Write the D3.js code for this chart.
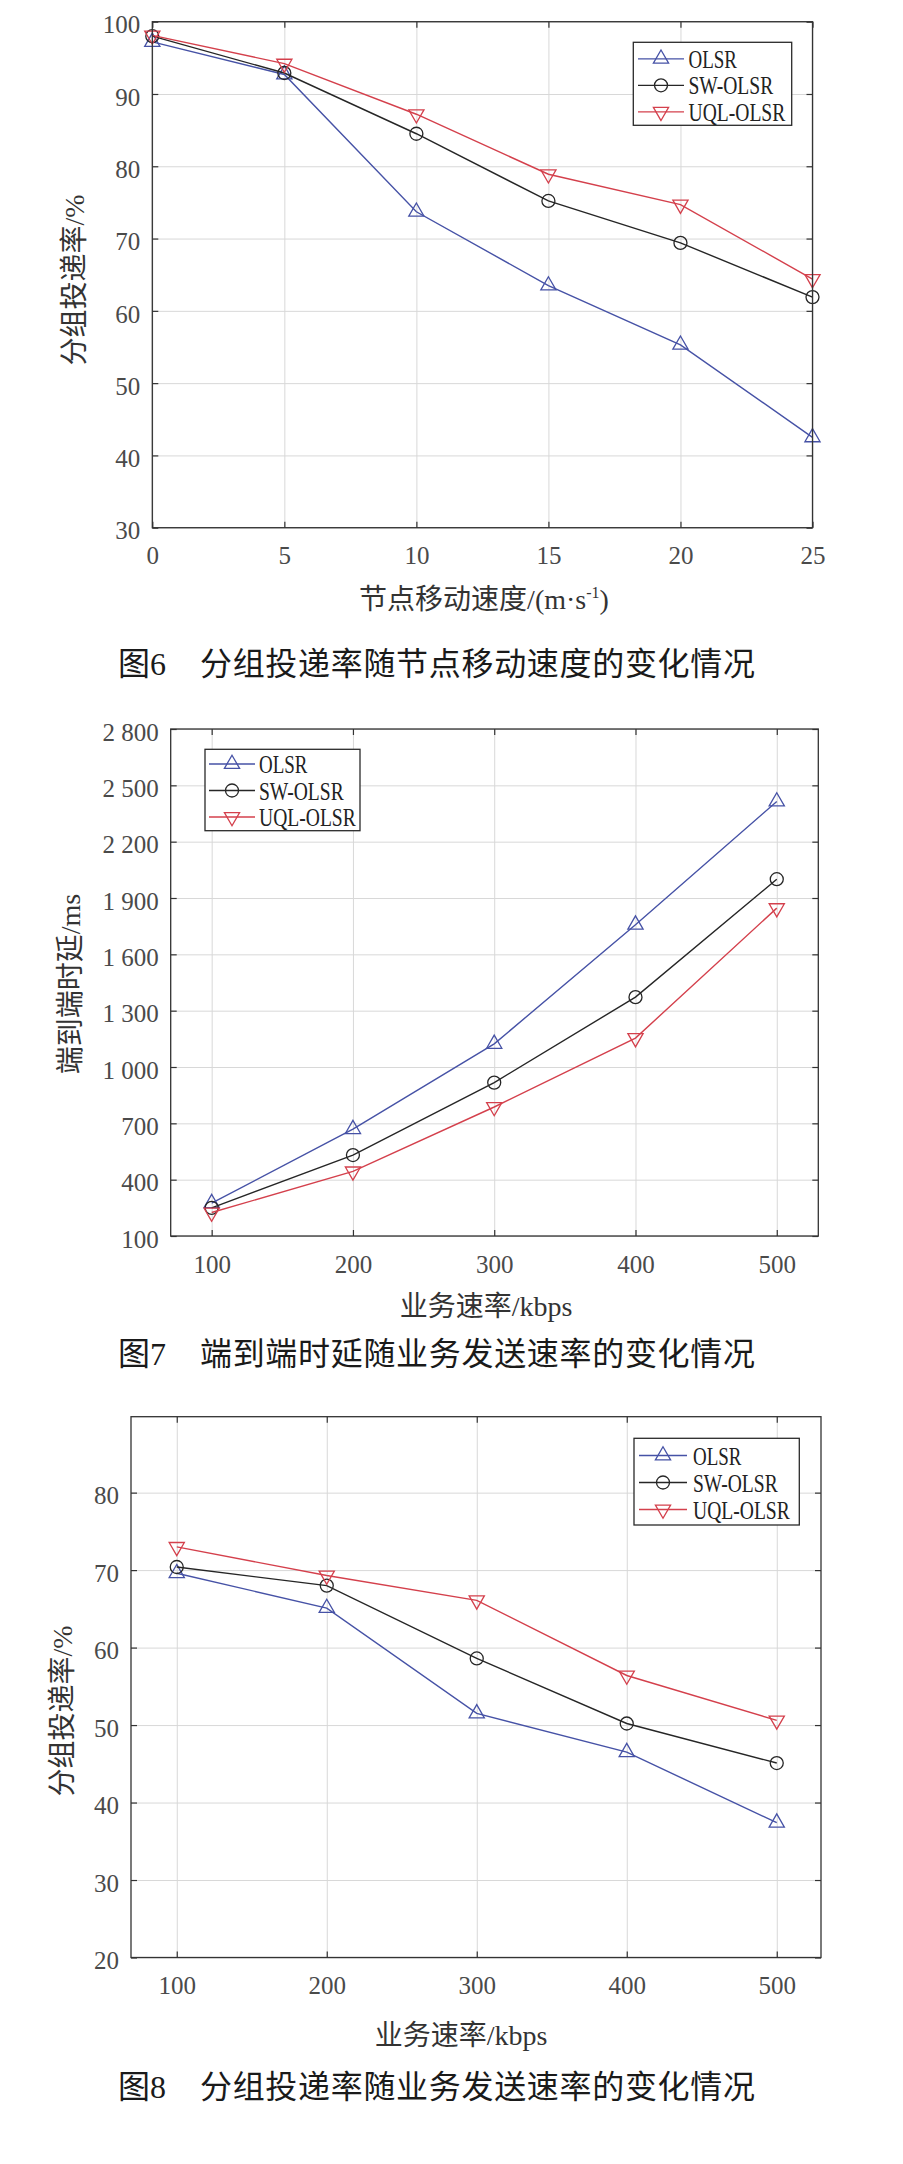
<!DOCTYPE html>
<html><head><meta charset="utf-8">
<script src="https://cdn.jsdelivr.net/npm/d3@7"></script>
<style>body{margin:0;background:#fff}svg{display:block}</style>
</head><body><svg id="c" width="903" height="2164"></svg>
<script>
// ---------- data ----------
const seriesNames = ["OLSR", "SW-OLSR", "UQL-OLSR"];

const speed = [0, 5, 10, 15, 20, 25];
const pdrSpeedOLSR = [97.2, 92.7, 73.7, 63.5, 55.3, 42.5];
const pdrSpeedSW   = [98.0, 92.9, 84.5, 75.2, 69.4, 61.9];
const pdrSpeedUQL  = [98.1, 94.2, 87.2, 78.9, 74.7, 64.4];

const rate = [100, 200, 300, 400, 500];
const delayOLSR = [275, 669, 1123, 1758, 2414];
const delaySW   = [250, 531, 917, 1372, 2000];
const delayUQL  = [225, 444, 787, 1154, 1846];

const pdrRateOLSR = [69.6, 65.1, 51.5, 46.5, 37.4];
const pdrRateSW   = [70.4, 68.0, 58.6, 50.2, 45.1];
const pdrRateUQL  = [73.0, 69.3, 66.1, 56.4, 50.6];

const speedTicks = [0, 5, 10, 15, 20, 25];
const pdrSpeedTicks = [30, 40, 50, 60, 70, 80, 90, 100];
const rateTicks = [100, 200, 300, 400, 500];
const delayTicks = [100, 400, 700, 1000, 1300, 1600, 1900, 2200, 2500, 2800];
const delayTickLabels = ["100", "400", "700", "1 000", "1 300", "1 600", "1 900", "2 200", "2 500", "2 800"];
const pdrRateTicks = [20, 30, 40, 50, 60, 70, 80];

// ---------- style ----------
const COLORS = ["#4652a6", "#262626", "#d4404c"];
const MARKERS = ["up", "circle", "down"];
const SERIF = "'Liberation Serif','Noto Sans CJK SC',serif";

const svg = d3.select("#c");
svg.append("rect").attr("width", 903).attr("height", 2164).attr("fill", "#fff");

function marker(sel, type, cx, cy, color) {
  if (type === "circle") {
    sel.append("circle").attr("cx", cx).attr("cy", cy).attr("r", 6.5)
      .attr("fill", "none").attr("stroke", color).attr("stroke-width", 1.3);
  } else {
    sel.append("path").attr("d", d3.symbol(d3.symbolTriangle, 100)())
      .attr("transform", `translate(${cx},${cy})` + (type === "down" ? " rotate(180)" : ""))
      .attr("fill", "none").attr("stroke", color).attr("stroke-width", 1.3);
  }
}

function drawChart(o) {
  const x = d3.scaleLinear().domain(o.xDomain).range([o.left, o.right]);
  const y = d3.scaleLinear().domain(o.yDomain).range([o.bottom, o.top]);
  const W = o.right - o.left, H = o.bottom - o.top;
  const g = svg.append("g");

  // grid
  g.append("g").attr("transform", `translate(0,${o.bottom})`)
    .call(d3.axisBottom(x).tickValues(o.xTicks).tickSize(-H).tickSizeOuter(0).tickFormat(""))
    .call(s => { s.select(".domain").remove(); s.selectAll("line").attr("stroke", "#d8d8d8").attr("stroke-width", 1); });
  g.append("g").attr("transform", `translate(${o.left},0)`)
    .call(d3.axisLeft(y).tickValues(o.yTicks).tickSize(-W).tickSizeOuter(0).tickFormat(""))
    .call(s => { s.select(".domain").remove(); s.selectAll("line").attr("stroke", "#d8d8d8").attr("stroke-width", 1); });

  // series
  const line = d3.line().x(d => x(d[0])).y(d => y(d[1]));
  o.series.forEach((vals, i) => {
    const pts = o.xs.map((xv, k) => [xv, vals[k]]);
    g.append("path").attr("d", line(pts)).attr("fill", "none")
      .attr("stroke", COLORS[i]).attr("stroke-width", 1.4);
    const mg = g.append("g");
    pts.forEach(p => marker(mg, MARKERS[i], x(p[0]), y(p[1]), COLORS[i]));
  });

  // axes (inward ticks on all four sides)
  const styleAxis = s => {
    s.select(".domain").remove();
    s.selectAll("line").attr("stroke", "#333").attr("stroke-width", 1.2);
    s.selectAll("text").attr("font-family", SERIF).attr("font-size", 25).attr("fill", "#4a4a4a");
  };
  g.append("g").attr("transform", `translate(0,${o.bottom})`)
    .call(d3.axisBottom(x).tickValues(o.xTicks).tickSize(-6).tickSizeOuter(0).tickPadding(19).tickFormat(o.xFmt || (d => d)))
    .call(styleAxis);
  g.append("g").attr("transform", `translate(0,${o.top})`)
    .call(d3.axisTop(x).tickValues(o.xTicks).tickSize(-6).tickSizeOuter(0).tickFormat(""))
    .call(styleAxis);
  g.append("g").attr("transform", `translate(${o.left},0)`)
    .call(d3.axisLeft(y).tickValues(o.yTicks).tickSize(-6).tickSizeOuter(0).tickPadding(12).tickFormat(o.yFmt || (d => d)))
    .call(styleAxis)
    .call(s => s.selectAll("text").attr("dy", "0.45em"));
  g.append("g").attr("transform", `translate(${o.right},0)`)
    .call(d3.axisRight(y).tickValues(o.yTicks).tickSize(-6).tickSizeOuter(0).tickFormat(""))
    .call(styleAxis);
  g.append("rect").attr("x", o.left).attr("y", o.top).attr("width", W).attr("height", H)
    .attr("fill", "none").attr("stroke", "#333").attr("stroke-width", 1.3);

  // legend
  const L = o.legend;
  g.append("rect").attr("x", L.x0).attr("y", L.y0).attr("width", L.x1 - L.x0).attr("height", L.y1 - L.y0)
    .attr("fill", "#fff").attr("stroke", "#2a2a2a").attr("stroke-width", 1.3);
  seriesNames.forEach((name, i) => {
    const ry = L.rowY + i * L.step;
    g.append("line").attr("x1", L.lx0).attr("x2", L.lx1).attr("y1", ry).attr("y2", ry)
      .attr("stroke", COLORS[i]).attr("stroke-width", 1.3);
    marker(g, MARKERS[i], (L.lx0 + L.lx1) / 2, ry, COLORS[i]);
    g.append("text").attr("x", L.tx).attr("y", ry + 9).text(name)
      .attr("font-family", SERIF).attr("font-size", 26).attr("fill", "#222")
      .attr("textLength", name.length * 12.1).attr("lengthAdjust", "spacingAndGlyphs");
  });

  // y label
  g.append("text").attr("transform", `translate(${o.ylab.x},${o.ylab.y}) rotate(-90)`)
    .attr("text-anchor", "middle").attr("dominant-baseline", "central")
    .attr("font-family", SERIF).attr("font-size", 28).attr("fill", "#333")
    .text(o.ylab.text);

  // x label
  const xl = g.append("text").attr("x", o.xlab.x).attr("y", o.xlab.y)
    .attr("text-anchor", "middle").attr("font-family", SERIF).attr("font-size", 28).attr("fill", "#333");
  if (o.xlab.sup) {
    xl.append("tspan").text(o.xlab.text);
    xl.append("tspan").attr("dy", -11).attr("font-size", 16).text(o.xlab.sup);
    xl.append("tspan").attr("dy", 11).text(o.xlab.tail);
  } else {
    xl.text(o.xlab.text);
  }

  // caption
  g.append("text").attr("x", 118).attr("y", o.capY).text(o.capNo)
    .attr("font-family", SERIF).attr("font-size", 32).attr("fill", "#1a1a1a");
  g.append("text").attr("x", 200).attr("y", o.capY).text(o.capText)
    .attr("font-family", SERIF).attr("font-size", 32).attr("fill", "#1a1a1a")
    .attr("textLength", 555);
}

// Figure 6
drawChart({
  left: 152.3, right: 812.5, top: 21.7, bottom: 527.7,
  xDomain: [0, 25], yDomain: [30, 100],
  xTicks: speedTicks, yTicks: pdrSpeedTicks,
  xs: speed, series: [pdrSpeedOLSR, pdrSpeedSW, pdrSpeedUQL],
  legend: { x0: 633.3, y0: 42.3, x1: 791.7, y1: 125.3, rowY: 58.8, step: 26.5, lx0: 638, lx1: 684, tx: 688.5 },
  ylab: { x: 74, y: 280, text: "分组投递率/%" },
  xlab: { x: 484, y: 609, text: "节点移动速度/(m·s", sup: "-1", tail: ")" },
  capY: 675, capNo: "图6", capText: "分组投递率随节点移动速度的变化情况"
});

// Figure 7
drawChart({
  left: 170.7, right: 818.3, top: 729, bottom: 1236,
  xDomain: [71, 529.4], yDomain: [100, 2800],
  xTicks: rateTicks, yTicks: delayTicks,
  yFmt: d => delayTickLabels[delayTicks.indexOf(d)],
  xs: rate, series: [delayOLSR, delaySW, delayUQL],
  legend: { x0: 205, y0: 749.3, x1: 360, y1: 830.7, rowY: 764, step: 26.5, lx0: 209, lx1: 255, tx: 259 },
  ylab: { x: 70, y: 984, text: "端到端时延/ms" },
  xlab: { x: 486, y: 1316, text: "业务速率/kbps" },
  capY: 1365, capNo: "图7", capText: "端到端时延随业务发送速率的变化情况"
});

// Figure 8
drawChart({
  left: 131, right: 821, top: 1416.7, bottom: 1957.5,
  xDomain: [69.5, 529.5], yDomain: [20, 89.8],
  xTicks: rateTicks, yTicks: pdrRateTicks,
  xs: rate, series: [pdrRateOLSR, pdrRateSW, pdrRateUQL],
  legend: { x0: 634, y0: 1438.3, x1: 799.3, y1: 1525, rowY: 1455.5, step: 27, lx0: 639, lx1: 687, tx: 693 },
  ylab: { x: 62, y: 1711, text: "分组投递率/%" },
  xlab: { x: 461, y: 2045, text: "业务速率/kbps" },
  capY: 2098, capNo: "图8", capText: "分组投递率随业务发送速率的变化情况"
});
</script>
</body></html>
